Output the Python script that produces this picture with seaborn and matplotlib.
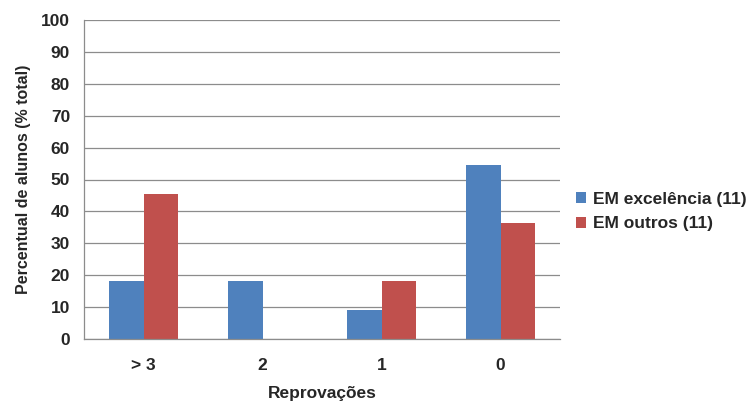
import matplotlib
matplotlib.use("Agg")
import matplotlib.pyplot as plt
import seaborn as sns
import pandas as pd

categorias = ["> 3", "2", "1", "0"]
excelencia = [18.18, 18.18, 9.09, 54.55]
outros = [45.45, 0.0, 18.18, 36.36]
series = ["EM excelência (11)", "EM outros (11)"]
cores = ["#4F81BD", "#C0504D"]

df = pd.DataFrame({
    "Reprovações": categorias * 2,
    "valor": excelencia + outros,
    "grupo": [series[0]] * len(categorias) + [series[1]] * len(categorias),
})

sns.set_theme(style="white")
plt.rcParams["font.family"] = ["Liberation Sans", "DejaVu Sans"]

fig = plt.figure(figsize=(7.55, 4.03), dpi=100)
ax = fig.add_axes([84 / 755, 1 - 339 / 403, (560 - 84) / 755, (339 - 20) / 403])

sns.barplot(data=df, x="Reprovações", y="valor", hue="grupo", order=categorias,
            hue_order=series, palette=cores, width=0.58, saturation=1,
            edgecolor="none", linewidth=0, ax=ax)

grid_c = "#8C8C8C"
ax.set_ylim(0, 100)
ax.set_xlim(-0.5, len(categorias) - 0.5)
ax.set_yticks(range(0, 101, 10))
ax.yaxis.grid(True, color=grid_c, linewidth=0.9)
ax.set_axisbelow(True)

for s in ["top", "right"]:
    ax.spines[s].set_visible(False)
for s in ["left", "bottom"]:
    ax.spines[s].set_color(grid_c)
    ax.spines[s].set_linewidth(0.9)

# category separator ticks on the x axis
ax.set_xticks([i - 0.5 for i in range(len(categorias) + 1)], minor=True)
ax.tick_params(axis="x", which="minor", length=5, color=grid_c, width=0.9, direction="out")
ax.tick_params(axis="x", which="major", length=0, pad=14)
ax.tick_params(axis="y", length=5, color=grid_c, width=0.9, direction="out", pad=5)

for lab in ax.get_xticklabels() + ax.get_yticklabels():
    lab.set_fontweight("bold")
    lab.set_fontsize(12.5)

ax.set_xlabel("Reprovações", fontsize=12.5, fontweight="bold", labelpad=9)
ax.set_ylabel("Percentual de alunos (% total)", fontsize=11.5, fontweight="bold", labelpad=7)

handles, labels = ax.get_legend_handles_labels()
ax.legend(handles, labels, loc="center left", bbox_to_anchor=(1.0, 0.40),
          frameon=False, prop={"weight": "bold", "size": 12.5},
          handlelength=0.6, handleheight=0.6, handletextpad=0.4, labelspacing=0.55)

fig.savefig("out.png", dpi=100)
